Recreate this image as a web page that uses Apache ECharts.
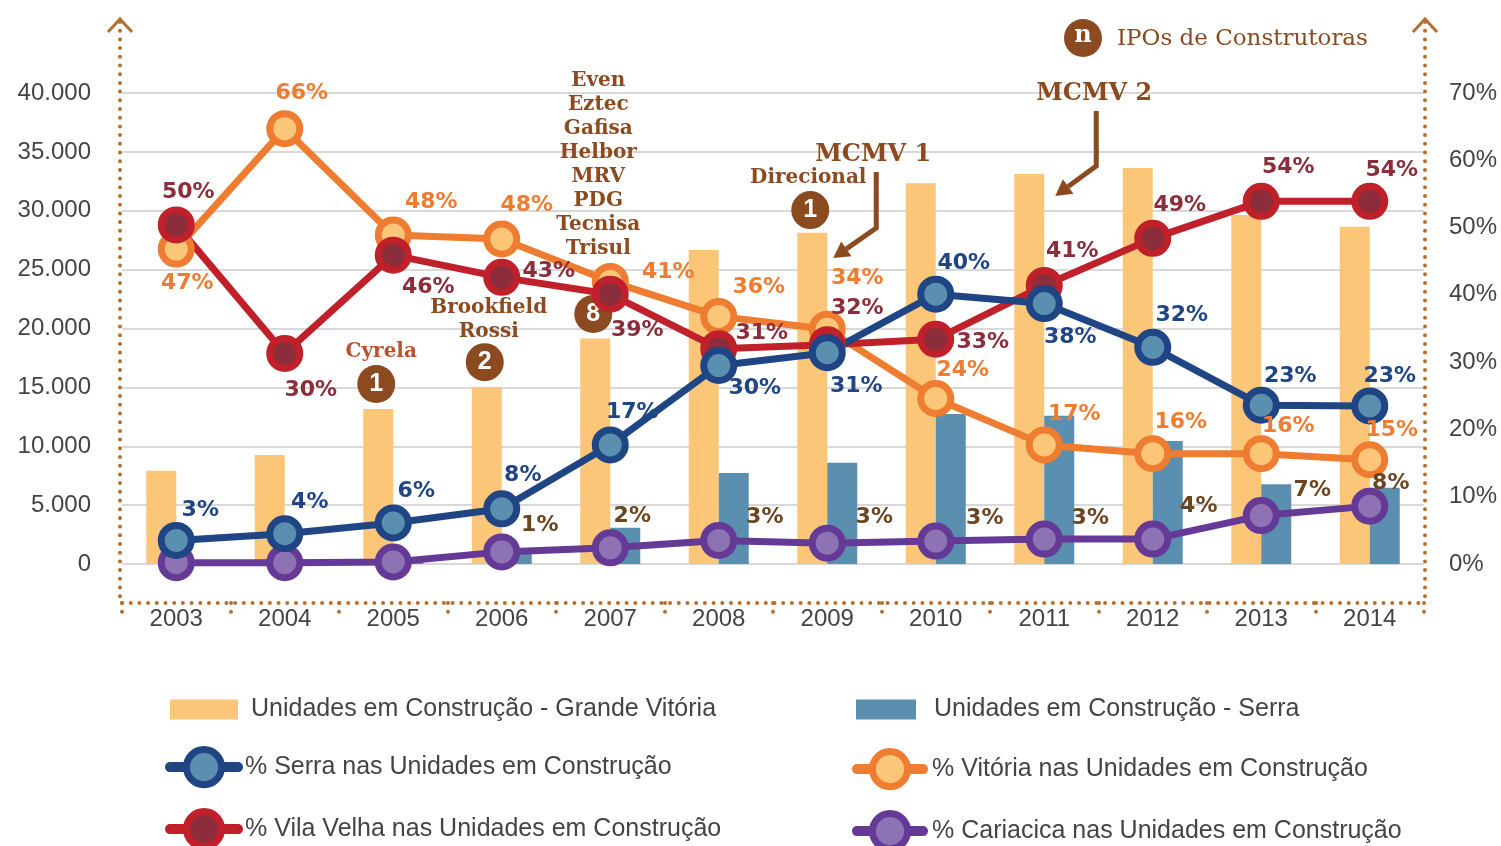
<!DOCTYPE html>
<html><head><meta charset="utf-8">
<script src="https://cdn.jsdelivr.net/npm/echarts@6/dist/echarts.min.js"></script>
<style>html,body{margin:0;padding:0;background:#fff}#c{width:1501px;height:846px}</style>
</head><body><div id="c"></div>
<script>
// ---------- DATA ----------
const years = ['2003','2004','2005','2006','2007','2008','2009','2010','2011','2012','2013','2014'];
const unidadesGrandeVitoria = [7920, 9260, 13160, 15030, 19150, 26670, 28140, 32330, 33120, 33630, 29640, 28650];
const unidadesSerra = [200, 300, 300, 900, 3080, 7730, 8600, 12740, 12600, 10450, 6770, 6480];
const pctSerra = [3.5, 4.5, 6.1, 8.2, 17.7, 29.5, 31.4, 40.1, 38.7, 32.2, 23.6, 23.5];
const pctVitoria = [46.8, 64.7, 48.9, 48.3, 42.0, 36.8, 34.9, 24.6, 17.7, 16.4, 16.4, 15.5];
const pctVilaVelha = [50.4, 31.3, 45.9, 42.6, 40.1, 32.0, 32.6, 33.4, 41.4, 48.4, 53.9, 53.9];
const pctCariacica = [0.2, 0.2, 0.3, 1.8, 2.4, 3.5, 3.1, 3.4, 3.7, 3.7, 7.2, 8.6];
const lblSerra = ['3%','4%','6%','8%','17%','30%','31%','40%','38%','32%','23%','23%'];
const lblVitoria = ['47%','66%','48%','48%','41%','36%','34%','24%','17%','16%','16%','15%'];
const lblVilaVelha = ['50%','30%','46%','43%','39%','31%','32%','33%','41%','49%','54%','54%'];
const lblCariacica = ['','','','1%','2%','3%','3%','3%','3%','4%','7%','8%'];
const leftTicks = {min: 0, max: 40000, interval: 5000};
const rightTicks = {min: 0, max: 70, interval: 10};
const ipoYears = ['2005','2006','2007','2009'];
const ipoCounts = [1, 2, 8, 1];
const ipoNames = ['Cyrela', 'Brookfield\nRossi', 'Even\nEztec\nGafisa\nHelbor\nMRV\nPDG\nTecnisa\nTrisul', 'Direcional'];
const programNames = ['MCMV 1', 'MCMV 2'];
const programYears = ['2009', '2011'];
const seriesNames = {
  gv: 'Unidades em Construção - Grande Vitória',
  sb: 'Unidades em Construção - Serra',
  serra: '% Serra nas Unidades em Construção',
  vit: '% Vitória nas Unidades em Construção',
  vv: '% Vila Velha nas Unidades em Construção',
  car: '% Cariacica nas Unidades em Construção'
};

// ---------- LAYOUT / STYLE ----------
const GRID = {left: 122, right: 77, top: 93, bottom: 282};
const BROWN = '#8B4A1F', DOT = '#B5702F', TXT = '#444444';
const SANS = 'Liberation Sans', LBLF = 'DejaVu Sans', SERIF = 'DejaVu Serif';
const offSerra = [[24,-30],[25,-31],[23,-32],[21,-34],[22,-33],[36,23],[29,34],[28,-31],[26,34],[29,-32],[29,-29],[20,-30]];
const offVitoria = [[11,34],[17,-35],[38,-33],[25,-34],[58,-9],[40,-29],[30,-51],[27,-28],[30,-31],[28,-31],[27,-27],[22,-29]];
const offVilaVelha = [[12,-33],[26,37],[35,32],[47,-6],[27,36],[43,-15],[30,-36],[47,3],[28,-34],[27,-33],[27,-34],[22,-31]];
const offCariacica = [[0,0],[0,0],[0,0],[38,-27],[22,-32],[46,-23],[47,-26],[49,-23],[46,-21],[46,-33],[51,-25],[21,-23]];
const ipoMarkerPct = [26.75, 30.0, 37.15, 52.6];
const ipoNameLayout = [
  {dx: -12, dist: 20, color: '#B5552F'},
  {dx: -13, dist: 18, color: BROWN},
  {dx: -12, dist: 53, color: BROWN},
  {dx: -19, dist: 20, color: BROWN}
];

function fmtThousands(v){ return String(v).replace(/\B(?=(\d{3})+(?!\d))/g, '.'); }

function lineSeries(name, values, labels, offs, ring, inner, lblColor){
  return {
    name, type: 'line', yAxisIndex: 1, symbol: 'circle', symbolSize: 30,
    lineStyle: {color: ring, width: 7},
    itemStyle: {color: inner, borderColor: ring, borderWidth: 7},
    label: {show: true, position: 'inside', fontFamily: LBLF, fontWeight: 'bold', fontSize: 22, color: lblColor,
      formatter: p => labels[p.dataIndex]},
    data: values.map((v, i) => ({value: v, label: {offset: offs[i]}})),
    emphasis: {disabled: true}, z: 3
  };
}

const chart = echarts.init(document.getElementById('c'), null, {renderer: 'canvas'});

function legendFor(name, left, top, w, h, isLine, gap){
  const l = {data: [name], left, top, padding: 0, itemWidth: w, itemHeight: h, selectedMode: false,
    textStyle: {fontFamily: SANS, fontSize: 25, color: TXT, padding: [0,0,0,gap]}};
  if (isLine){ l.itemStyle = {borderWidth: 7}; l.lineStyle = {width: 10, cap: 'round'}; }
  else { l.icon = 'rect'; }
  return l;
}

const option = {
  animation: false,
  backgroundColor: '#fff',
  grid: {left: GRID.left, right: GRID.right, top: GRID.top, bottom: GRID.bottom},
  xAxis: {
    type: 'category', data: years, offset: 39,
    axisLine: {show: true, onZero: false, lineStyle: {color: DOT, width: 4, type: [0, 8.7], cap: 'round'}},
    axisTick: {show: true, length: 10, lineStyle: {color: DOT, width: 4, type: [0, 8.7], cap: 'round'}},
    axisLabel: {fontFamily: SANS, fontSize: 24, color: TXT, margin: 4}
  },
  yAxis: [
    {type: 'value', min: leftTicks.min, max: leftTicks.max, interval: leftTicks.interval,
      axisLine: {show: false}, axisTick: {show: false},
      axisLabel: {fontFamily: SANS, fontSize: 24, color: TXT, margin: 31, formatter: fmtThousands},
      splitLine: {lineStyle: {color: '#CCCCCC', width: 1.5}}},
    {type: 'value', min: rightTicks.min, max: rightTicks.max, interval: rightTicks.interval,
      axisLine: {show: false}, axisTick: {show: false}, splitLine: {show: false},
      axisLabel: {fontFamily: SANS, fontSize: 24, color: TXT, margin: 25, formatter: '{value}%'}}
  ],
  legend: [
    legendFor(seriesNames.gv, 170, 697, 68, 20, false, 8),
    legendFor(seriesNames.sb, 856, 697, 60, 20, false, 13),
    legendFor(seriesNames.serra, 165, 746, 68, 44, true, 2),
    legendFor(seriesNames.vit, 852, 748, 66, 44, true, 4),
    legendFor(seriesNames.vv, 165, 808, 68, 44, true, 2),
    legendFor(seriesNames.car, 852, 810, 66, 44, true, 4)
  ],
  series: [
    {name: seriesNames.gv, type: 'bar', data: unidadesGrandeVitoria, barWidth: 30, barGap: '0%',
      itemStyle: {color: '#FCC679'}, emphasis: {disabled: true}, z: 1},
    {name: seriesNames.sb, type: 'bar', data: unidadesSerra, barWidth: 30, barGap: '0%',
      itemStyle: {color: '#5A8FAF'}, emphasis: {disabled: true}, z: 1},
    {name: 'IPOs', type: 'scatter', yAxisIndex: 1, symbol: 'circle', symbolSize: 38, symbolOffset: [-17, 0],
      itemStyle: {color: BROWN, opacity: 1}, z: 2, emphasis: {disabled: true},
      label: {show: true, position: 'inside', color: '#fff', fontFamily: SANS, fontWeight: 'bold', fontSize: 25,
        formatter: p => String(ipoCounts[p.dataIndex])},
      data: ipoYears.map((y, i) => [y, ipoMarkerPct[i]])},
    {name: 'IPO names', type: 'scatter', yAxisIndex: 1, symbolSize: 0, z: 2, emphasis: {disabled: true}, silent: true,
      itemStyle: {opacity: 1},
      data: ipoYears.map((y, i) => ({value: [y, ipoMarkerPct[i]],
        label: {show: true, position: 'top', distance: ipoNameLayout[i].dist, offset: [ipoNameLayout[i].dx, 0],
          color: ipoNameLayout[i].color, fontFamily: SERIF, fontWeight: 'bold', fontSize: 20, lineHeight: 24, align: 'center',
          formatter: () => ipoNames[i]}}))},
    lineSeries(seriesNames.vit, pctVitoria, lblVitoria, offVitoria, '#EE7D31', '#FBC678', '#EE7D31'),
    lineSeries(seriesNames.vv, pctVilaVelha, lblVilaVelha, offVilaVelha, '#C0202A', '#8B2D3A', '#8B2D3A'),
    lineSeries(seriesNames.car, pctCariacica, lblCariacica, offCariacica, '#643A96', '#8E73B4', '#6B4420'),
    lineSeries(seriesNames.serra, pctSerra, lblSerra, offSerra, '#1F4585', '#5A8FAF', '#1F4585')
  ]
};
chart.setOption(option);

// ---------- annotations (frame, arrows, IPO key) ----------
function arrow(pts, color){
  const n = pts.length, T = pts[n-1], P = pts[n-2];
  let dx = T[0]-P[0], dy = T[1]-P[1]; const L = Math.hypot(dx, dy); dx /= L; dy /= L;
  const hl = 16, hw = 9;
  const B = [T[0]-dx*hl, T[1]-dy*hl];
  const nx = -dy, ny = dx;
  const shaft = pts.slice(0, n-1).concat([B]);
  return [
    {type: 'polyline', shape: {points: shaft}, style: {stroke: color, lineWidth: 5, fill: null, lineJoin: 'miter'}},
    {type: 'polygon', shape: {points: [T, [B[0]+nx*hw, B[1]+ny*hw], [B[0]-nx*hw, B[1]-ny*hw]]}, style: {fill: color}}
  ];
}
const W = 1501;
const xl = GRID.left - 2, xr = W - GRID.right + 1, yb = 846 - GRID.bottom + 39, yt = 22;
const dotStyle = {stroke: DOT, lineWidth: 4, lineDash: [0, 8.7], lineCap: 'round', fill: null};
const chevStyle = {stroke: DOT, lineWidth: 3, fill: null};
const g = [
  {type: 'line', shape: {x1: xl, y1: yt, x2: xl, y2: yb}, style: dotStyle},
  {type: 'line', shape: {x1: xr, y1: yt, x2: xr, y2: yb}, style: dotStyle},
  {type: 'polyline', shape: {points: [[xl-12, yt+10], [xl, yt-3], [xl+12, yt+10]]}, style: chevStyle},
  {type: 'polyline', shape: {points: [[xr-12, yt+10], [xr, yt-3], [xr+12, yt+10]]}, style: chevStyle},
  {type: 'circle', shape: {cx: 1083, cy: 38, r: 19}, style: {fill: BROWN}},
  {type: 'text', x: 1083, y: 36, style: {text: 'n', fill: '#fff', font: 'bold 24px "DejaVu Serif"', align: 'center', verticalAlign: 'middle'}},
  {type: 'text', x: 1117, y: 39, style: {text: 'IPOs de Construtoras', fill: BROWN, font: '23px "DejaVu Serif"', align: 'left', verticalAlign: 'middle'}}
];
const progLayout = [
  {tx: 46, ty: 155, pts: [[49, 172], [49, 228], [6, 258]]},
  {tx: 50, ty: 94, pts: [[52, 111], [52, 166], [11, 196]]}
];
programYears.forEach((y, i) => {
  const x = chart.convertToPixel({xAxisIndex: 0}, y);
  const L = progLayout[i];
  g.push({type: 'text', x: x + L.tx, y: L.ty, style: {text: programNames[i], fill: BROWN, font: 'bold 24px "DejaVu Serif"', align: 'center', verticalAlign: 'middle'}});
  arrow(L.pts.map(p => [x + p[0], p[1]]), BROWN).forEach(e => g.push(e));
});
chart.setOption({graphic: g});
</script>
</body></html>
